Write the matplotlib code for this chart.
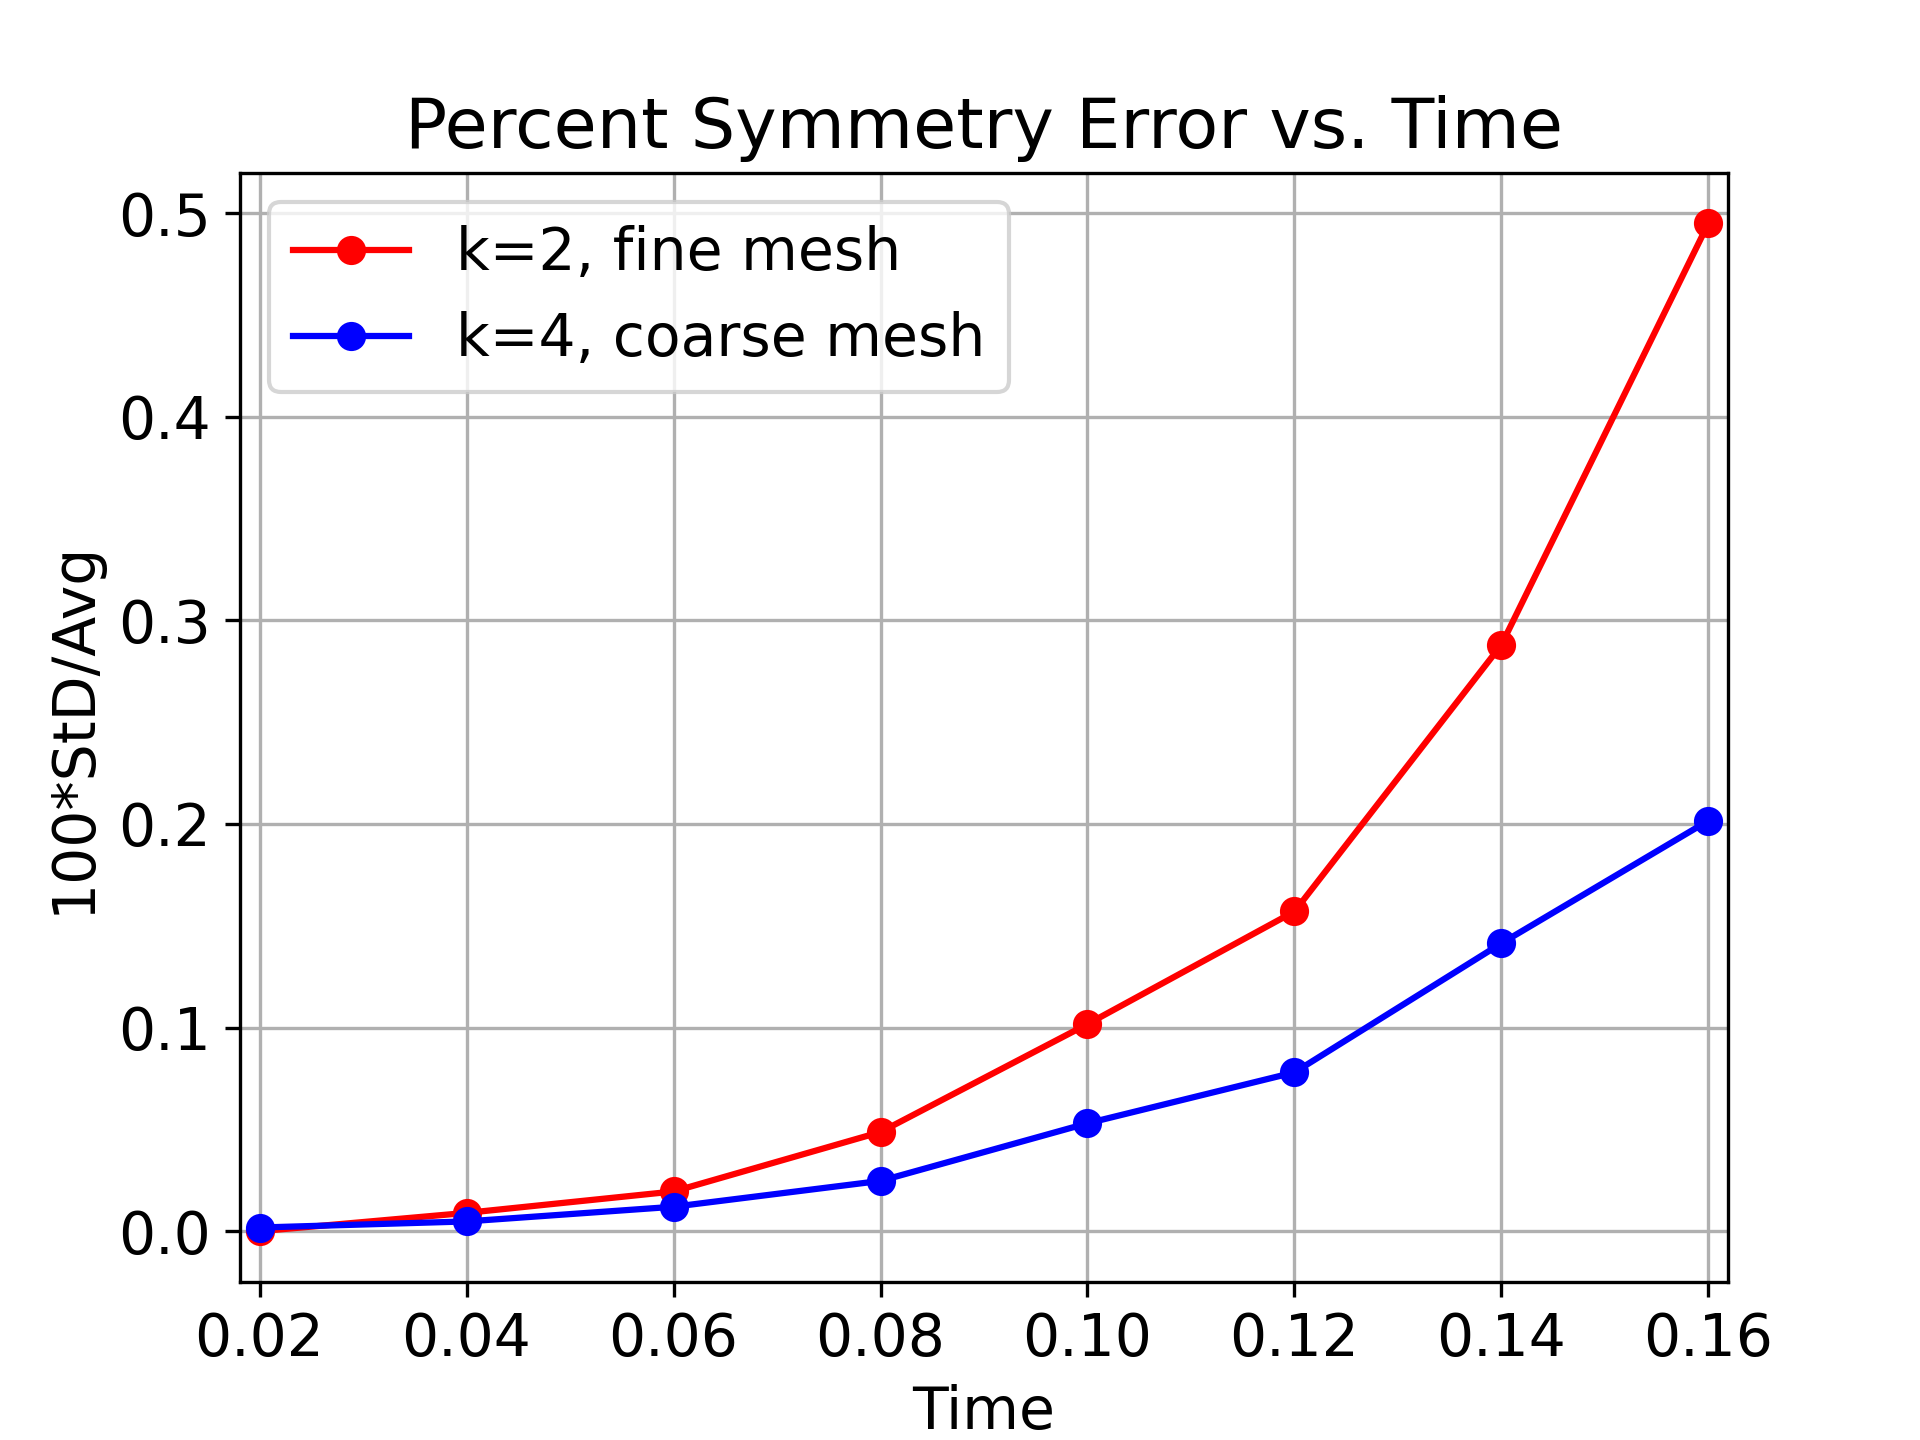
import numpy as np
import matplotlib
matplotlib.use("Agg")
import matplotlib.pyplot as plt

tiempos = [0.02, 0.04, 0.06, 0.08, 0.10, 0.12, 0.14, 0.16]
error_k2_fina = [0.0, 0.009, 0.0195, 0.0487, 0.1017, 0.157, 0.288, 0.495]
error_k4_gruesa = [0.0018, 0.0048, 0.012, 0.0247, 0.053, 0.078, 0.1414, 0.2016]

plt.rcParams['font.size'] = 14

fig = plt.figure(figsize=(6.4, 4.8), dpi=300)
plt.plot(tiempos, error_k2_fina, 'r-o', label='k=2, fine mesh')
plt.plot(tiempos, error_k4_gruesa, 'b-o', label='k=4, coarse mesh')
plt.title('Percent Symmetry Error vs. Time')
plt.xlabel('Time')
plt.ylabel('100*StD/Avg')
plt.xticks(tiempos)
plt.margins(x=0.0135)
plt.grid(True)
plt.legend(loc='upper left')

plt.savefig('out.png', dpi=300)
